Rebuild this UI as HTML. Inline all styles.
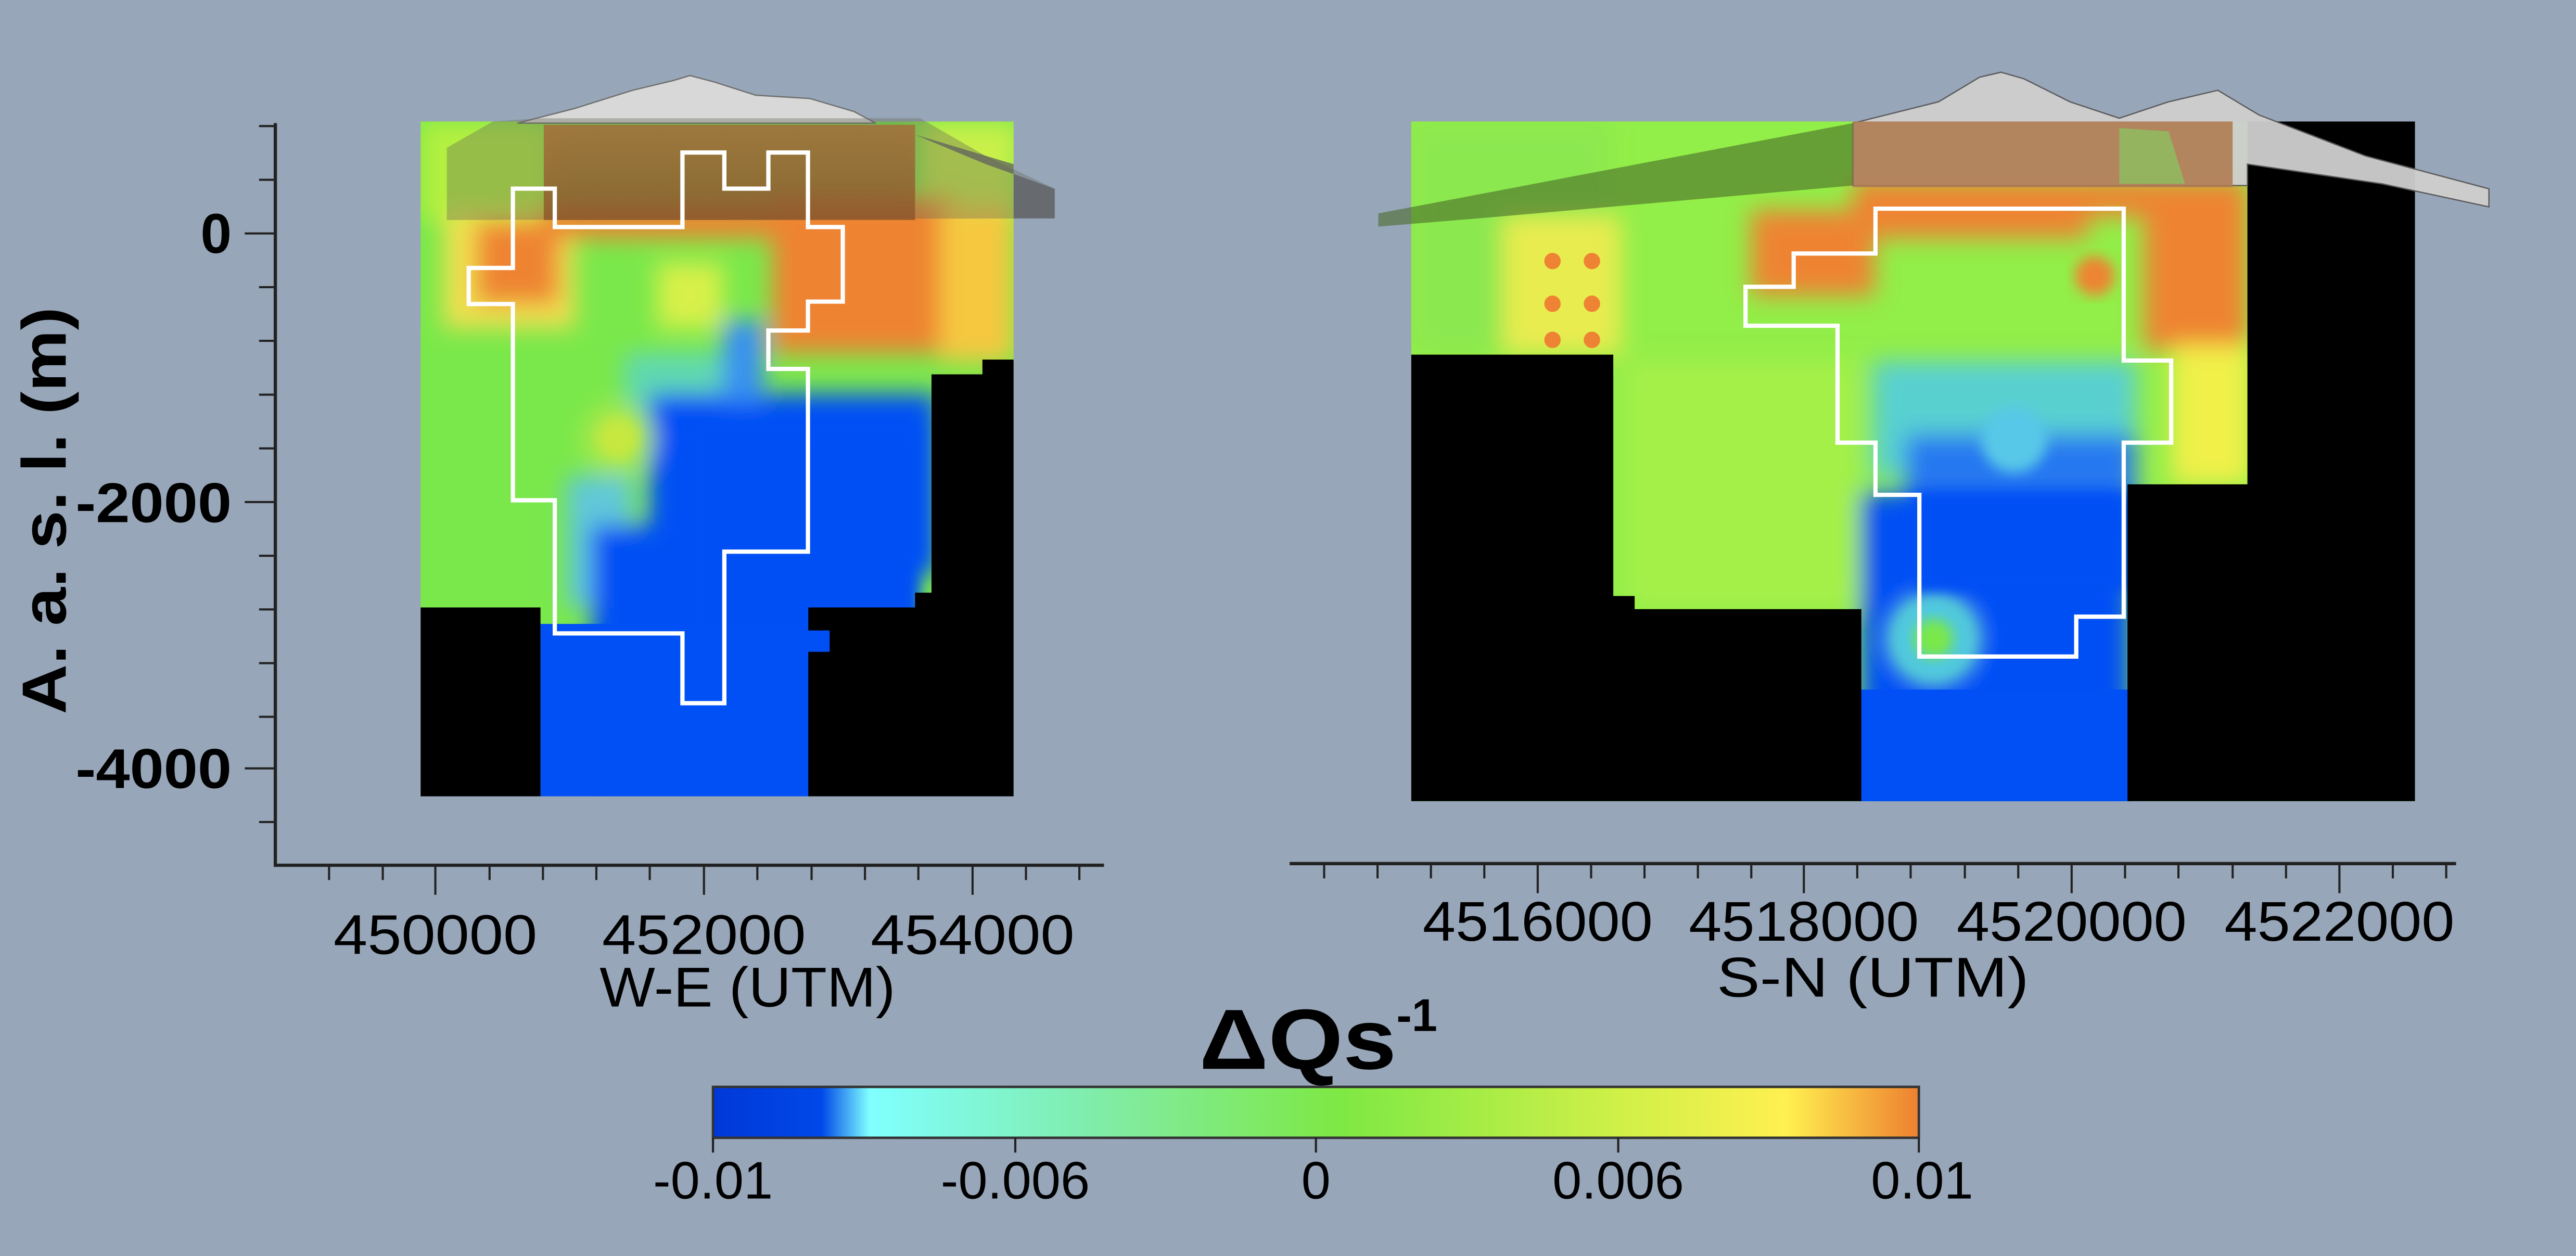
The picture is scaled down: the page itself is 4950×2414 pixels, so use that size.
<!DOCTYPE html>
<html><head><meta charset="utf-8"><style>
html,body{margin:0;padding:0;background:#97a6b8;}
svg{display:block;}
text{font-family:"Liberation Sans",Arial,sans-serif;fill:#000;}
</style></head><body>
<svg width="4950" height="2414" viewBox="0 0 1568 765" preserveAspectRatio="none" xmlns="http://www.w3.org/2000/svg">
<defs>
<filter id="b8" x="-20%" y="-20%" width="140%" height="140%"><feGaussianBlur stdDeviation="7"/></filter>
<filter id="b4" x="-20%" y="-20%" width="140%" height="140%"><feGaussianBlur stdDeviation="4"/></filter>
<clipPath id="cl"><rect x="256" y="74" width="361" height="411"/></clipPath>
<clipPath id="cr"><rect x="859" y="74" width="611" height="414"/></clipPath>
<linearGradient id="cb" x1="0" x2="1" y1="0" y2="0">
<stop offset="0" stop-color="#0038d8"/><stop offset="0.09" stop-color="#0048e8"/>
<stop offset="0.13" stop-color="#80ffff"/><stop offset="0.32" stop-color="#80eca8"/>
<stop offset="0.52" stop-color="#7ee844"/><stop offset="0.75" stop-color="#cff048"/>
<stop offset="0.89" stop-color="#fff050"/><stop offset="1" stop-color="#ee8030"/>
</linearGradient>
<linearGradient id="brL" x1="0" x2="0" y1="0" y2="1"><stop offset="0" stop-color="#a8683a"/><stop offset="1" stop-color="#8a5428"/></linearGradient>
</defs>
<rect width="1568" height="765" fill="#97a6b8"/>

<!-- LEFT PANEL -->
<g clip-path="url(#cl)">
<rect x="256" y="74" width="361" height="411" fill="#7ae84a"/>
<g filter="url(#b8)">
<rect x="256" y="74" width="80" height="60" fill="#b4f040"/>
<rect x="560" y="74" width="60" height="60" fill="#c8f048"/>
<rect x="270" y="130" width="80" height="70" fill="#f0e050"/>
<rect x="290" y="135" width="50" height="50" fill="#ee8433"/>
<rect x="330" y="125" width="160" height="20" fill="#ee8433"/>
<rect x="470" y="120" width="110" height="95" fill="#ee8433"/>
<rect x="572" y="125" width="45" height="95" fill="#f5c840"/>
<rect x="400" y="160" width="40" height="40" fill="#d8f048"/>
<rect x="380" y="215" width="70" height="40" fill="#60d8b0"/>
<rect x="345" y="290" width="40" height="80" fill="#60c8d8"/>
<rect x="395" y="240" width="175" height="110" fill="#0050f5"/>
<rect x="440" y="195" width="25" height="50" fill="#3890f0"/>
<rect x="360" y="320" width="140" height="170" fill="#0050f5"/>
<circle cx="376" cy="267" r="22" fill="#a8e848"/>
</g>
<rect x="420" y="260" width="140" height="225" fill="#0050f5" filter="url(#b4)"/>
<rect x="329" y="380" width="170" height="105" fill="#0050f5"/>
<circle cx="376" cy="267" r="12" fill="#c8e840" filter="url(#b4)"/>
<path d="M256,370 H329 V485 H256Z M567,228 H598 V219 H617 V485 H492 V397 H505 V384 H492 V370 H557 V361 H567Z" fill="#000"/>
</g>
<!-- left mountain & band -->
<path d="M315,75 L350,66 L385,55 L410,49 L420,46 L435,50 L460,58 L493,60 L520,68 L533,75 Z" fill="#d8d8d8" stroke="#707070" stroke-width="0.8"/>
<path d="M300,74 L330,72 L560,72 L600,95 L642,115 L642,133 L272,134 L272,90 Z" fill="#6a6a5a" opacity="0.38"/>
<rect x="331" y="76" width="226" height="58" fill="url(#brL)" opacity="0.8"/>
<path d="M557,82 L600,100 L642,115 L642,133 L617,133 L617,100 Z" fill="#5a5a60" opacity="0.7"/>
<path d="M312.2,114.9 H337.7 V138.3 H415.4 V92.9 H440.9 V114.9 H467.7 V92.9 H491.8 V138.3 H513 V183.7 H491.8 V201.3 H467.7 V224.7 H491.8 V336 H440.9 V428.3 H415.4 V385.8 H337.7 V304.7 H312.2 V185.2 H285.3 V163.2 H312.2 Z" fill="none" stroke="#fff" stroke-width="2.6"/>

<!-- RIGHT PANEL -->
<g clip-path="url(#cr)">
<rect x="859" y="74" width="611" height="414" fill="#92ee48"/>
<g filter="url(#b8)">
<rect x="859" y="74" width="120" height="140" fill="#8ce850"/>
<rect x="915" y="132" width="72" height="84" fill="#e8ec50"/>
<rect x="990" y="220" width="140" height="150" fill="#a4f048"/>
<rect x="1066" y="128" width="75" height="52" fill="#ee8433"/>
<rect x="1128" y="110" width="240" height="22" fill="#ee8433"/>
<rect x="1141" y="125" width="130" height="20" fill="#ee8433"/>
<rect x="1305" y="125" width="63" height="88" fill="#ee8433"/>
<rect x="1322" y="210" width="48" height="85" fill="#f0f048"/>
<rect x="1140" y="220" width="160" height="70" fill="#58d0d0"/>
<rect x="1160" y="265" width="140" height="60" fill="#2878f0"/>
<rect x="1133" y="300" width="164" height="200" fill="#0050f5"/>
<circle cx="1177" cy="389" r="26" fill="#60d8c0"/>
</g>
<circle cx="1275" cy="168" r="12" fill="#ee8433" filter="url(#b4)"/>
<circle cx="1226" cy="268" r="20" fill="#58c8e8" filter="url(#b4)"/>
<rect x="1165" y="300" width="130" height="60" fill="#0050f5" filter="url(#b4)"/>
<rect x="1133" y="420" width="164" height="70" fill="#0050f5"/>
<circle cx="1177" cy="389" r="24" fill="#50c8e0" filter="url(#b4)"/>
<circle cx="1177" cy="389" r="12" fill="#7ae84a" filter="url(#b4)"/>
<g fill="#ee8433">
<circle cx="945" cy="159" r="5"/><circle cx="969" cy="159" r="5"/>
<circle cx="945" cy="185" r="5"/><circle cx="969" cy="185" r="5"/>
<circle cx="945" cy="207" r="5"/><circle cx="969" cy="207" r="5"/>
</g>
<path d="M859,216 H982 V363 H995 V371 H1133 V488 H859Z M1295,295 H1368 V74 H1470 V488 H1295Z" fill="#000"/>
</g>
<!-- right mountains & band -->
<path d="M839,130 L1128,75 L1128,113 L900,133 L839,138 Z" fill="#4a6a2a" opacity="0.6"/>
<path d="M1128,75 L1180,62 L1205,47 L1218,44 L1232,48 L1260,62 L1290,72 L1320,62 L1350,55 L1375,70 L1440,95 L1515,115 L1515,126 L1450,112 L1368,100 L1368,113 L1128,113 Z" fill="#cfcfcf" stroke="#5a5a5a" stroke-width="0.8" opacity="0.95"/>
<rect x="1128" y="74" width="231" height="40" fill="#b07c52" opacity="0.9"/>
<path d="M1290,78 L1320,80 L1330,112 L1290,112Z" fill="#88c860" opacity="0.7"/>
<path d="M1141.6,127.1 H1292.7 V219.6 H1321.6 V269.6 H1292.7 V375.6 H1263.8 V399.9 H1168.3 V301.4 H1141.6 V269.6 H1118.5 V198.4 H1062.5 V174.7 H1091.8 V154.4 H1141.6 Z" fill="none" stroke="#fff" stroke-width="2.6"/>

<!-- AXES -->
<g stroke="#222" stroke-width="2" fill="none">
<line x1="167.6" y1="75" x2="167.6" y2="528"/>
<line x1="167.6" y1="527" x2="672" y2="527"/>
<line x1="785" y1="526" x2="1495" y2="526"/>
</g>
<g stroke="#222" stroke-width="1.3">
<line x1="149" y1="142.2" x2="167.6" y2="142.2"/><line x1="149" y1="305.8" x2="167.6" y2="305.8"/><line x1="149" y1="468" x2="167.6" y2="468"/>
<line x1="157.7" y1="76.8" x2="167.6" y2="76.8"/><line x1="157.7" y1="109.5" x2="167.6" y2="109.5"/>
<line x1="157.7" y1="174.9" x2="167.6" y2="174.9"/><line x1="157.7" y1="207.6" x2="167.6" y2="207.6"/><line x1="157.7" y1="240.4" x2="167.6" y2="240.4"/><line x1="157.7" y1="273.1" x2="167.6" y2="273.1"/>
<line x1="157.7" y1="338.5" x2="167.6" y2="338.5"/><line x1="157.7" y1="371.2" x2="167.6" y2="371.2"/><line x1="157.7" y1="403.9" x2="167.6" y2="403.9"/><line x1="157.7" y1="436.6" x2="167.6" y2="436.6"/><line x1="157.7" y1="500.7" x2="167.6" y2="500.7"/>
<line x1="200.3" y1="527" x2="200.3" y2="536"/><line x1="233" y1="527" x2="233" y2="536"/><line x1="265" y1="527" x2="265" y2="545"/>
<line x1="298" y1="527" x2="298" y2="536"/><line x1="330.5" y1="527" x2="330.5" y2="536"/><line x1="363" y1="527" x2="363" y2="536"/><line x1="395.5" y1="527" x2="395.5" y2="536"/><line x1="428.5" y1="527" x2="428.5" y2="545"/>
<line x1="461" y1="527" x2="461" y2="536"/><line x1="494" y1="527" x2="494" y2="536"/><line x1="526.5" y1="527" x2="526.5" y2="536"/><line x1="559" y1="527" x2="559" y2="536"/><line x1="592" y1="527" x2="592" y2="545"/>
<line x1="624.5" y1="527" x2="624.5" y2="536"/><line x1="657" y1="527" x2="657" y2="536"/>
<line x1="806" y1="526" x2="806" y2="535"/><line x1="838.5" y1="526" x2="838.5" y2="535"/><line x1="871" y1="526" x2="871" y2="535"/><line x1="903.5" y1="526" x2="903.5" y2="535"/><line x1="936" y1="526" x2="936" y2="544"/>
<line x1="968.5" y1="526" x2="968.5" y2="535"/><line x1="1001" y1="526" x2="1001" y2="535"/><line x1="1033.5" y1="526" x2="1033.5" y2="535"/><line x1="1066" y1="526" x2="1066" y2="535"/><line x1="1098" y1="526" x2="1098" y2="544"/>
<line x1="1130.5" y1="526" x2="1130.5" y2="535"/><line x1="1163" y1="526" x2="1163" y2="535"/><line x1="1196" y1="526" x2="1196" y2="535"/><line x1="1228.5" y1="526" x2="1228.5" y2="535"/><line x1="1261" y1="526" x2="1261" y2="544"/>
<line x1="1293.5" y1="526" x2="1293.5" y2="535"/><line x1="1326" y1="526" x2="1326" y2="535"/><line x1="1359" y1="526" x2="1359" y2="535"/><line x1="1391.5" y1="526" x2="1391.5" y2="535"/><line x1="1424" y1="526" x2="1424" y2="544"/>
<line x1="1456.5" y1="526" x2="1456.5" y2="535"/><line x1="1489" y1="526" x2="1489" y2="535"/>
</g>

<g font-weight="bold" font-size="34" text-anchor="end">
<text x="141" y="154">0</text>
<text x="141" y="318" textLength="95" lengthAdjust="spacingAndGlyphs">-2000</text>
<text x="141" y="480" textLength="95" lengthAdjust="spacingAndGlyphs">-4000</text>
</g>
<text transform="translate(40,311) rotate(-90)" text-anchor="middle" font-weight="bold" font-size="38" textLength="248" lengthAdjust="spacingAndGlyphs">A. a. s. l. (m)</text>

<g font-size="34" text-anchor="middle">
<text x="265" y="581" textLength="124" lengthAdjust="spacingAndGlyphs">450000</text>
<text x="428.5" y="581" textLength="124" lengthAdjust="spacingAndGlyphs">452000</text>
<text x="592" y="581" textLength="124" lengthAdjust="spacingAndGlyphs">454000</text>
<text x="936" y="573" textLength="140" lengthAdjust="spacingAndGlyphs">4516000</text>
<text x="1098" y="573" textLength="140" lengthAdjust="spacingAndGlyphs">4518000</text>
<text x="1261" y="573" textLength="140" lengthAdjust="spacingAndGlyphs">4520000</text>
<text x="1424" y="573" textLength="140" lengthAdjust="spacingAndGlyphs">4522000</text>
<text x="455" y="613" textLength="180" lengthAdjust="spacingAndGlyphs">W-E (UTM)</text>
<text x="1140" y="607" textLength="190" lengthAdjust="spacingAndGlyphs">S-N (UTM)</text>
</g>

<text x="730" y="651" font-weight="bold" font-size="52" textLength="120" lengthAdjust="spacingAndGlyphs">ΔQs</text>
<text x="850" y="628" font-weight="bold" font-size="28">-1</text>
<rect x="434" y="662" width="734" height="31" fill="url(#cb)"/>
<rect x="434" y="662" width="734" height="31" fill="none" stroke="#333" stroke-width="1.5"/>
<g stroke="#222" stroke-width="1.3">
<line x1="434" y1="693" x2="434" y2="702"/><line x1="618" y1="693" x2="618" y2="702"/><line x1="801" y1="693" x2="801" y2="702"/><line x1="985" y1="693" x2="985" y2="702"/><line x1="1168" y1="693" x2="1168" y2="702"/>
</g>
<g font-size="32" text-anchor="middle">
<text x="434" y="730">-0.01</text>
<text x="618" y="730">-0.006</text>
<text x="801" y="730">0</text>
<text x="985" y="730">0.006</text>
<text x="1170" y="730">0.01</text>
</g>
</svg>
</body></html>
